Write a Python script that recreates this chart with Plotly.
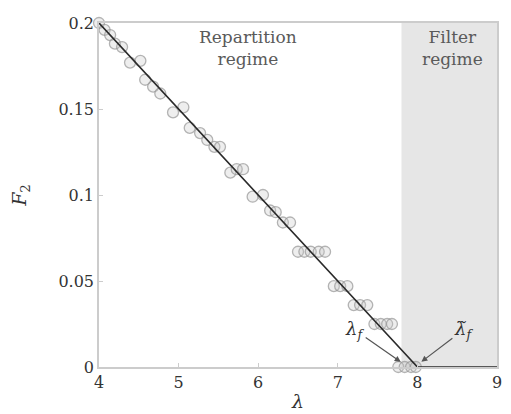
import plotly.graph_objects as go

# data points (lambda, F2)
lam = [4.00, 4.07, 4.14, 4.20, 4.29, 4.39, 4.52, 4.58, 4.68, 4.77, 4.93, 5.06,
       5.14, 5.27, 5.36, 5.45, 5.52, 5.65, 5.73, 5.81, 5.93, 6.06, 6.15, 6.22,
       6.31, 6.40, 6.50, 6.58, 6.66, 6.76, 6.84, 6.95, 7.03, 7.12, 7.20, 7.28,
       7.37, 7.46, 7.54, 7.62, 7.68, 7.76, 7.84, 7.92, 7.98]
F2 = [0.200, 0.196, 0.193, 0.188, 0.186, 0.177, 0.178, 0.167, 0.163, 0.159, 0.148, 0.151,
      0.139, 0.136, 0.132, 0.128, 0.128, 0.113, 0.115, 0.115, 0.099, 0.100, 0.091, 0.090,
      0.084, 0.084, 0.067, 0.067, 0.067, 0.067, 0.067, 0.047, 0.047, 0.047, 0.036, 0.036,
      0.036, 0.025, 0.025, 0.025, 0.025, 0.0, 0.0, 0.0, 0.0]

# theory line
line_x = [4, 8, 9]
line_y = [0.2, 0.0, 0.0]

lam_f = 7.8
x_ticks = [4, 5, 6, 7, 8, 9]
y_ticks = [0, 0.05, 0.1, 0.15, 0.2]
y_ticktext = ["0", "0.05", "0.1", "0.15", "0.2"]

serif = "DejaVu Serif"
fig = go.Figure()

fig.add_shape(type="rect", xref="x", yref="paper", x0=lam_f, x1=9, y0=0, y1=1,
              fillcolor="#e6e6e6", line=dict(width=0), layer="below")

fig.add_trace(go.Scatter(x=lam, y=F2, mode="markers", cliponaxis=False,
                         marker=dict(symbol="circle", size=11, color="rgba(200,200,200,0.3)",
                                     line=dict(color="rgba(150,150,150,0.7)", width=1.3)),
                         showlegend=False))
fig.add_trace(go.Scatter(x=line_x, y=line_y, mode="lines", cliponaxis=False,
                         line=dict(color="#2a2a2a", width=1.6), showlegend=False))

fig.add_annotation(x=5.87, y=0.2, yshift=-2, text="Repartition<br>regime", showarrow=False,
                   yanchor="top", font=dict(family=serif, size=17, color="#5a5a5a"),
                   align="center")
fig.add_annotation(x=8.44, y=0.2, yshift=-2, text="Filter<br>regime", showarrow=False,
                   yanchor="top", font=dict(family=serif, size=17, color="#5a5a5a"),
                   align="center")
fig.add_annotation(x=7.79, y=0.003, ax=-46, ay=-32, text="<i>λ<sub>f</sub></i>",
                   showarrow=True, arrowhead=2, arrowsize=1, arrowwidth=1.2, arrowcolor="#555555",
                   font=dict(family=serif, size=18, color="#333333"))
fig.add_annotation(x=8.05, y=0.003, ax=42, ay=-32, text="<i>λ̃<sub>f</sub></i>",
                   showarrow=True, arrowhead=2, arrowsize=1, arrowwidth=1.2, arrowcolor="#555555",
                   font=dict(family=serif, size=18, color="#333333"))

axis_common = dict(showline=True, linecolor="#cccccc", linewidth=1.5, mirror=True,
                   showgrid=False, zeroline=False, ticks="inside", ticklen=4,
                   tickcolor="#cccccc", automargin=False,
                   tickfont=dict(family=serif, size=16, color="#333333"))
fig.update_xaxes(range=[4, 9], tickvals=x_ticks,
                 title=dict(text="<i>λ</i>", font=dict(family=serif, size=19, color="#333333"),
                            standoff=4),
                 **axis_common)
fig.update_yaxes(range=[0, 0.2], tickvals=y_ticks, ticktext=y_ticktext,
                 title=dict(text="<i>F</i><sub>2</sub>", font=dict(family=serif, size=19, color="#333333"),
                            standoff=32),
                 **axis_common)

fig.update_layout(width=511, height=414, margin=dict(l=91, r=22, t=15, b=55),
                  plot_bgcolor="white", paper_bgcolor="white")
fig.write_html("out.html")
